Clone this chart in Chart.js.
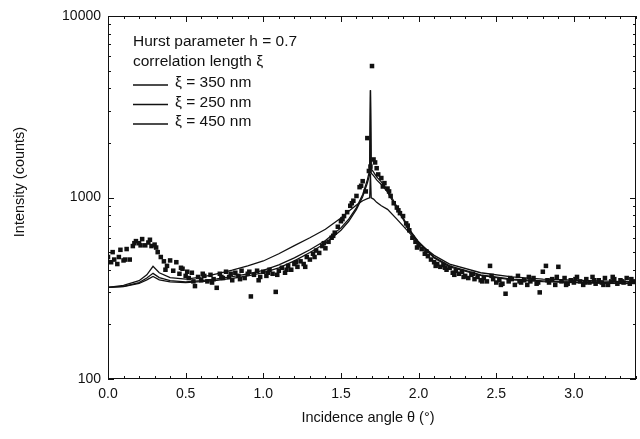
<!DOCTYPE html>
<html>
<head>
<meta charset="utf-8">
<script src="https://cdn.jsdelivr.net/npm/chart.js@4.4.1/dist/chart.umd.min.js"></script>
<style>
  html, body { margin: 0; padding: 0; background: #fff; }
  #wrap { width: 640px; height: 439px; position: relative; }
</style>
</head>
<body>
<div id="wrap"><canvas id="xrayChart"></canvas></div>
<script>
// measured intensities (squares)
const measTheta = [
  0.00, 0.02, 0.04, 0.06, 0.08, 0.10, 0.12, 0.14, 0.16, 0.18, 0.20, 0.22, 0.24, 0.26, 0.28, 0.30, 0.32, 0.34, 0.36, 0.38,
  0.40, 0.42, 0.44, 0.46, 0.48, 0.50, 0.52, 0.54, 0.56, 0.58, 0.60, 0.62, 0.64, 0.66, 0.68, 0.70, 0.72, 0.74, 0.76, 0.78,
  0.80, 0.82, 0.84, 0.86, 0.88, 0.90, 0.92, 0.94, 0.96, 0.98, 1.00, 1.02, 1.04, 1.06, 1.08, 1.10, 1.12, 1.14, 1.16, 1.18,
  1.20, 1.22, 1.24, 1.26, 1.28, 1.30, 1.32, 1.34, 1.36, 1.38, 1.40, 1.42, 1.44, 1.46, 1.48, 1.50, 1.52, 1.54, 1.56, 1.58,
  1.60, 1.62, 1.64, 1.66, 1.68, 1.70, 1.72, 1.74, 1.76, 1.78, 1.80, 1.82, 1.84, 1.86, 1.88, 1.90, 1.92, 1.94, 1.96, 1.98,
  2.00, 2.02, 2.04, 2.06, 2.08, 2.10, 2.12, 2.14, 2.16, 2.18, 2.20, 2.22, 2.24, 2.26, 2.28, 2.30, 2.32, 2.34, 2.36, 2.38,
  2.40, 2.42, 2.44, 2.46, 2.48, 2.50, 2.52, 2.54, 2.56, 2.58, 2.60, 2.62, 2.64, 2.66, 2.68, 2.70, 2.72, 2.74, 2.76, 2.78,
  2.80, 2.82, 2.84, 2.86, 2.88, 2.90, 2.92, 2.94, 2.96, 2.98, 3.00, 3.02, 3.04, 3.06, 3.08, 3.10, 3.12, 3.14, 3.16, 3.18,
  3.20, 3.22, 3.24, 3.26, 3.28, 3.30, 3.32, 3.34, 3.36, 3.38
];
const measCounts = [
  470, 440, 455, 430, 515, 450, 520, 455, 540, 575, 560, 590, 545, 565, 540, 550, 500, 470, 445, 420,
  450, 395, 440, 380, 405, 370, 360, 385, 325, 365, 350, 370, 345, 375, 355, 318, 380, 360, 390, 365,
  350, 385, 370, 395, 360, 380, 285, 375, 395, 365, 390, 370, 400, 380, 302, 395, 410, 385, 420, 400,
  430, 415, 445, 430, 470, 455, 490, 510, 495, 540, 525, 570, 600, 640, 690, 740, 790, 830, 900, 960,
  1020, 1140, 1230, 1080, 1400, 5300, 1560, 1340, 1280, 1200, 1120, 1020, 930, 880, 820, 790, 720, 660, 600, 570,
  545, 520, 490, 475, 455, 440, 430, 415, 425, 400, 410, 385, 395, 380, 390, 370, 360, 375, 355, 365,
  350, 360, 345, 420, 355, 340, 350, 335, 295, 345, 355, 330, 370, 340, 350, 330, 345, 360, 335, 300,
  390, 420, 340, 355, 330, 415, 345, 360, 335, 350, 340, 365, 345, 330, 355, 340, 365, 335, 350, 340,
  360, 330, 345, 355, 335, 350, 340, 360, 335, 345
];
const extraTheta = [
  0.03, 0.07, 0.11, 0.17, 0.21, 0.27, 0.31, 0.37, 0.47, 0.51, 0.55, 0.61, 0.67, 0.73, 0.79, 0.85, 0.91, 0.97, 1.03, 1.09,
  1.15, 1.21, 1.27, 1.33, 1.39, 1.45, 1.51, 1.57, 1.63, 1.67, 1.69, 1.71, 1.73, 1.77, 1.81, 1.87, 1.93, 1.99, 2.05, 2.11,
  2.17, 2.23, 2.29, 2.35, 2.41, 2.47, 2.53, 2.59, 2.65, 2.71, 2.77, 2.83, 2.89, 2.95, 3.01, 3.07, 3.13, 3.19, 3.25, 3.31, 3.37
];
const extraCounts = [
  500, 470, 455, 560, 545, 585, 530, 400, 410, 390, 345, 380, 340, 365, 380, 355, 390, 350, 385, 375,
  400, 440, 415, 470, 560, 615, 760, 930, 1160, 2125, 1480, 1620, 1450, 1150, 1080, 850, 700, 530, 505, 420,
  410, 375, 365, 380, 345, 370, 330, 360, 345, 365, 340, 350, 365, 330, 355, 340, 350, 330, 365, 345, 355
];

// simulated curves
const curveTheta = [
  0, 0.1, 0.2, 0.25, 0.29, 0.33, 0.4, 0.5, 0.6, 0.7, 0.8, 0.9, 1.0, 1.1, 1.2, 1.3, 1.4, 1.5, 1.55, 1.6,
  1.64, 1.67, 1.685, 1.69, 1.695, 1.71, 1.73, 1.76, 1.8, 1.86, 1.95, 2.0, 2.1, 2.2, 2.4, 2.6, 2.8, 3.0, 3.2, 3.4
];
const xi350 = [
  320, 324, 340, 360, 382, 362, 348, 343, 348, 356, 366, 380, 397, 425, 465, 515, 580, 680, 760, 880,
  1040, 1250, 1420, 3900, 1440, 1380, 1300, 1220, 1100, 890, 650, 570, 470, 420, 375, 355, 347, 342, 339, 337
];
const xi250 = [
  320, 328, 348, 375, 418, 385, 362, 355, 364, 380, 398, 420, 447, 490, 543, 600, 668, 770, 840, 910,
  960, 985, 995, 1350, 995, 980, 940, 900, 860, 760, 626, 560, 480, 430, 385, 365, 355, 350, 346, 343
];
const xi450 = [
  320, 323, 336, 352, 367, 352, 343, 340, 344, 350, 358, 370, 385, 410, 448, 498, 560, 660, 740, 860,
  1010, 1200, 1340, 3900, 1360, 1320, 1250, 1180, 1070, 870, 640, 565, 465, 415, 372, 352, 344, 340, 337, 335
];

const legendLines = ['Hurst parameter h = 0.7', 'correlation length \u03be'];
const curveLabels = ['\u03be = 350 nm', '\u03be = 250 nm', '\u03be = 450 nm'];
const yTicks = [100, 1000, 10000];
const xTicks = [0, 0.5, 1, 1.5, 2, 2.5, 3];
const xTitle = 'Incidence angle \u03b8 (\u00b0)';
const yTitle = 'Intensity (counts)';

const FONT = '"Liberation Sans", Arial, Helvetica, sans-serif';
const INK = '#111';

function pts(xs, ys) {
  return xs.map((x, i) => ({ x: x, y: ys[i] }));
}

function curveSet(label, ys) {
  return {
    type: 'line',
    label: label,
    data: pts(curveTheta, ys),
    borderColor: INK,
    borderWidth: 1.3,
    pointRadius: 0,
    fill: false,
    tension: 0
  };
}

// frame, inward ticks on all four sides, axis titles and the text legend
const decorPlugin = {
  id: 'decor',
  afterDraw(chart) {
    const ctx = chart.ctx;
    const { left, right, top, bottom } = chart.chartArea;
    const xs = chart.scales.x, ys = chart.scales.y;
    ctx.save();
    ctx.strokeStyle = INK;
    ctx.lineWidth = 1;
    ctx.strokeRect(left + 0.5, top + 0.5, right - left - 1, bottom - top - 1);

    ctx.beginPath();
    for (let i = 0; i <= 34; i++) {
      const px = Math.round(xs.getPixelForValue(i / 10)) + 0.5;
      const len = i % 5 === 0 ? 6 : 3;
      ctx.moveTo(px, bottom); ctx.lineTo(px, bottom - len);
      ctx.moveTo(px, top); ctx.lineTo(px, top + len);
    }
    [100, 1000].forEach(dec => {
      for (let m = 1; m <= 9; m++) {
        const py = Math.round(ys.getPixelForValue(m * dec)) + 0.5;
        const len = m === 1 ? 6 : 3;
        ctx.moveTo(left, py); ctx.lineTo(left + len, py);
        ctx.moveTo(right, py); ctx.lineTo(right - len, py);
      }
    });
    ctx.stroke();

    ctx.fillStyle = INK;
    ctx.textBaseline = 'middle';

    // axis titles
    ctx.font = '14.5px ' + FONT;
    ctx.textAlign = 'center';
    ctx.fillText(xTitle, 368, 418);
    ctx.save();
    ctx.translate(20, 182);
    ctx.rotate(-Math.PI / 2);
    ctx.fillText(yTitle, 0, 0);
    ctx.restore();

    // legend text
    ctx.font = '15.5px ' + FONT;
    ctx.textAlign = 'left';
    ctx.fillText(legendLines[0], 133, 42);
    ctx.fillText(legendLines[1], 133, 62);
    curveLabels.forEach((t, i) => {
      const y = 83 + i * 19.5;
      ctx.beginPath();
      ctx.moveTo(133, y + 2); ctx.lineTo(168, y + 2);
      ctx.lineWidth = 1.3;
      ctx.stroke();
      ctx.fillText(t, 175, y);
    });
    ctx.restore();
  }
};

const ctx = document.getElementById('xrayChart').getContext('2d');
new Chart(ctx, {
  type: 'scatter',
  data: {
    datasets: [
      {
        label: 'measured',
        data: pts(measTheta, measCounts).concat(pts(extraTheta, extraCounts)),
        backgroundColor: INK,
        borderColor: INK,
        borderWidth: 0,
        pointStyle: 'rect',
        pointRadius: 3.2
      },
      curveSet(curveLabels[0], xi350),
      curveSet(curveLabels[1], xi250),
      curveSet(curveLabels[2], xi450)
    ]
  },
  options: {
    responsive: true,
    maintainAspectRatio: false,
    animation: false,
    devicePixelRatio: 1,
    layout: { padding: { top: 16, right: 0, left: 0, bottom: 0 } },
    plugins: {
      legend: { display: false },
      tooltip: { enabled: false }
    },
    scales: {
      x: {
        type: 'linear',
        min: 0,
        max: 3.4,
        afterFit: s => { s.height = 60; },
        afterBuildTicks: s => { s.ticks = xTicks.map(v => ({ value: v })); },
        grid: { display: false, drawTicks: false },
        border: { display: false },
        ticks: {
          padding: 7,
          color: INK,
          font: { family: FONT, size: 14 },
          maxRotation: 0,
          callback: v => v.toFixed(1)
        }
      },
      y: {
        type: 'logarithmic',
        min: 100,
        max: 10000,
        afterFit: s => { s.width = 108; },
        afterBuildTicks: s => { s.ticks = yTicks.map(v => ({ value: v })); },
        grid: { display: false, drawTicks: false },
        border: { display: false },
        ticks: {
          padding: 7,
          color: INK,
          font: { family: FONT, size: 14 },
          callback: v => String(v)
        }
      }
    }
  },
  plugins: [decorPlugin]
});
</script>
</body>
</html>
